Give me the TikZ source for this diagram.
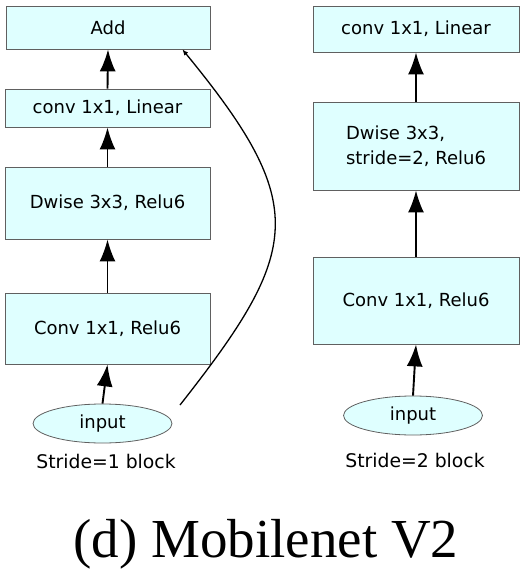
\documentclass[tikz,border=0pt]{standalone}
\usepackage{fontspec}
\setmainfont{DejaVu Sans}
\newfontfamily\titlefont{Liberation Serif}
\usetikzlibrary{arrows.meta,shapes.geometric}
\definecolor{boxfill}{HTML}{DFFFFF}
\definecolor{boxline}{HTML}{606060}
\tikzset{
  blk/.style={draw=boxline, fill=boxfill, line width=0.8pt, rectangle, inner sep=0pt,
    font=\fontsize{18}{25}\selectfont, text=black},
  inp/.style={draw=boxline, fill=boxfill, line width=0.8pt, ellipse, inner sep=0pt,
    minimum width=139pt, minimum height=39pt, font=\fontsize{18}{22}\selectfont},
  blocklabel/.style={font=\fontsize{18.8}{22}\selectfont, inner sep=0pt},
  flow/.style={line width=1.9pt, -{Latex[length=22pt,width=16pt]}},
  skiparrow/.style={line width=1.3pt, -{Latex[length=6pt,width=5pt]}},
}
\begin{document}
\begin{tikzpicture}[x=1pt,y=-1pt]
\useasboundingbox (0,0) rectangle (529,569);
% left column
\node[blk, minimum width=204pt, minimum height=43pt] (add) at (108,27.5) {Add};
\node[blk, minimum width=205pt, minimum height=38pt] (lin1) at (107.5,108) {conv 1x1, Linear};
\node[blk, minimum width=205pt, minimum height=72pt] (dw1) at (107.5,203) {Dwise 3x3, Relu6};
\node[blk, minimum width=205pt, minimum height=71pt] (cv1) at (107.5,328.5) {Conv 1x1, Relu6};
\node[inp] (in1) at (102.5,423.5) {input};
\node[blocklabel] (c1) at (106,461) {Stride=1 block};
% right column
\node[blk, minimum width=206pt, minimum height=46pt] (lin2) at (416,29) {conv 1x1, Linear};
\node[blk, minimum width=206pt, minimum height=88pt, align=left] (dw2) at (416,146) {Dwise 3x3,\\stride=2, Relu6};
\node[blk, minimum width=206pt, minimum height=87pt] (cv2) at (416,300.5) {Conv 1x1, Relu6};
\node[inp] (in2) at (413,415.5) {input};
\node[blocklabel] (c2) at (415,460) {Stride=2 block};
% title
\node[font=\titlefont\fontsize{55}{60}\selectfont, anchor=base, inner sep=0pt] (title) at (266,557) {(d) Mobilenet V2};
% arrows
\draw[flow] (in1.north) -- (cv1.south);
\draw[flow] (cv1.north) -- (dw1.south);
\draw[flow] (dw1.north) -- (lin1.south);
\draw[flow] (lin1.north) -- (add.south);
\draw[flow] (in2.north) -- (cv2.south);
\draw[flow] (cv2.north) -- (dw2.south);
\draw[flow] (dw2.north) -- (lin2.south);
\coordinate (skip) at (180,405);
\draw[skiparrow] (skip) .. controls (302,250) and (310,205) .. ([xshift=-28pt]add.south east);
\end{tikzpicture}
\end{document}
